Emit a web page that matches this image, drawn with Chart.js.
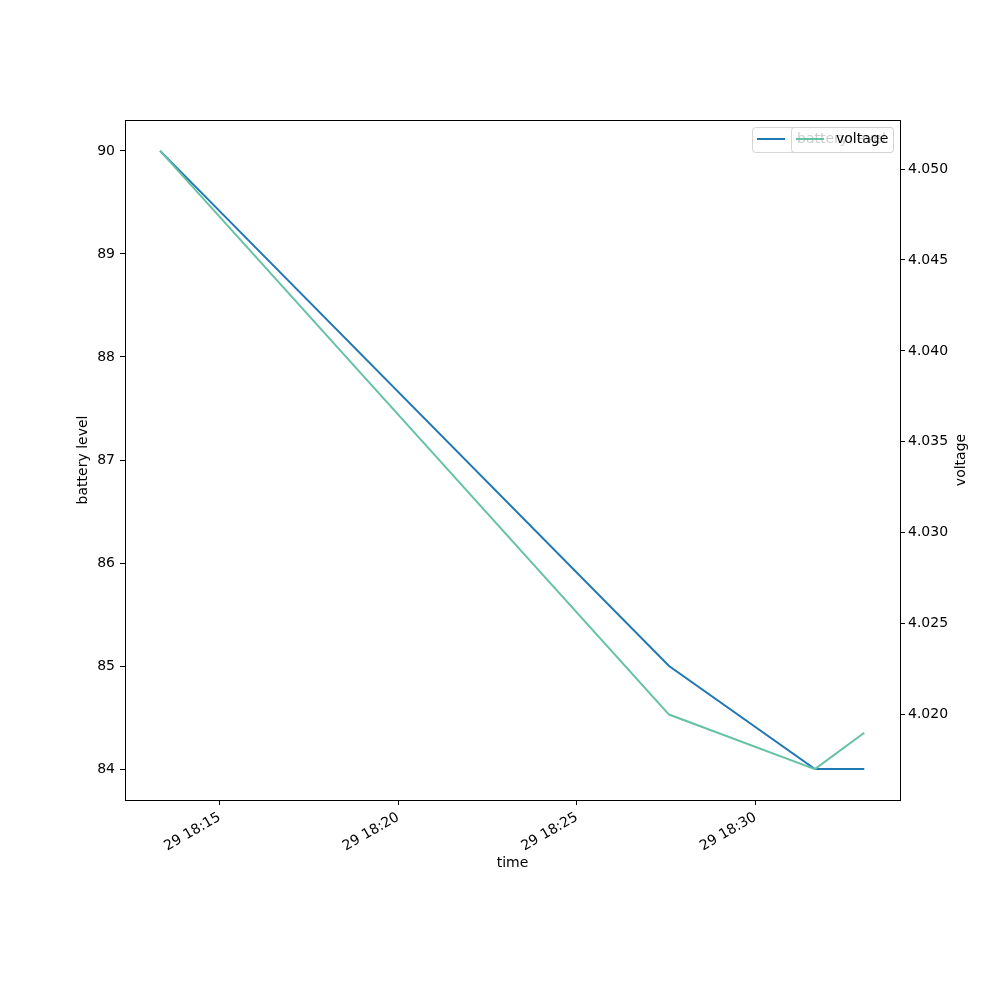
<!DOCTYPE html>
<html>
<head>
<meta charset="utf-8">
<script src="https://cdn.jsdelivr.net/npm/chart.js@4.4.1/dist/chart.umd.min.js"></script>
<style>
  html, body { margin: 0; padding: 0; background: #fff; }
  #wrap { width: 1000px; height: 1000px; }
</style>
</head>
<body>
<div id="wrap"><canvas id="myChart" width="1000" height="1000"></canvas></div>
<script>
// readings, day 29
const times = ['18:13:20', '18:27:35', '18:31:40', '18:33:03'];
const batteryLevel = [90, 85, 84, 84];
const voltage = [4.051, 4.020, 4.017, 4.019];

const xTicks = [15, 20, 25, 30];
const leftTicks = [84, 85, 86, 87, 88, 89, 90];
const rightTicks = [4.020, 4.025, 4.030, 4.035, 4.040, 4.045, 4.050];

// minutes after 18:00
function toMin(t) {
  const p = t.split(':').map(Number);
  return (p[0] - 18) * 60 + p[1] + p[2] / 60;
}
const xs = times.map(toMin);

const FONT = { family: 'DejaVu Sans', size: 14 };

const frame = {
  id: 'frame',
  afterDraw(chart) {
    const c = chart.ctx;
    const a = chart.chartArea;
    c.save();
    c.strokeStyle = '#000';
    c.lineWidth = 1;
    c.strokeRect(a.left + 0.5, a.top + 0.5, a.right - a.left, a.bottom - a.top);

    // right axis title, reads bottom to top like the original
    c.font = '14px "DejaVu Sans"';
    c.fillStyle = '#000';
    c.textAlign = 'center';
    c.textBaseline = 'middle';
    c.translate(961, (a.top + a.bottom) / 2);
    c.rotate(-Math.PI / 2);
    c.fillText('voltage', 0, 0);
    c.restore();

    // two legends stacked on each other (as in the source figure)
    function box(x1, x2, color, label, lineX, textX) {
      c.save();
      c.fillStyle = 'rgba(255,255,255,0.8)';
      c.strokeStyle = 'rgba(204,204,204,0.8)';
      c.lineWidth = 1;
      c.beginPath();
      c.roundRect(x1 + 0.5, 127.5, x2 - x1, 25, 3);
      c.fill();
      c.stroke();
      c.strokeStyle = color;
      c.lineWidth = 2;
      c.beginPath();
      c.moveTo(lineX, 139);
      c.lineTo(lineX + 28, 139);
      c.stroke();
      c.font = '14px "DejaVu Sans"';
      c.fillStyle = '#000';
      c.textBaseline = 'middle';
      c.fillText(label, textX, 139);
      c.restore();
    }
    box(752, 893, '#1f77b4', 'battery level', 757, 797);
    box(791, 893, '#66c2a5', 'voltage', 796, 836);
  }
};

new Chart(document.getElementById('myChart'), {
  type: 'line',
  data: {
    datasets: [
      {
        label: 'voltage',
        data: xs.map((x, i) => ({ x: x, y: voltage[i] })),
        yAxisID: 'y2',
        borderColor: '#66c2a5',
        borderWidth: 2,
        pointRadius: 0,
        tension: 0,
        fill: false,
        order: 0,
      },
      {
        label: 'battery level',
        data: xs.map((x, i) => ({ x: x, y: batteryLevel[i] })),
        yAxisID: 'y',
        borderColor: '#1f77b4',
        borderWidth: 2,
        pointRadius: 0,
        tension: 0,
        fill: false,
        order: 1,
      },
    ],
  },
  options: {
    responsive: false,
    animation: false,
    devicePixelRatio: 1,
    layout: { padding: { left: 75, right: 0, top: 120, bottom: 128 } },
    plugins: { legend: { display: false }, tooltip: { enabled: false } },
    scales: {
      x: {
        type: 'linear',
        min: 12.35,
        max: 34.05,
        afterBuildTicks: axis => { axis.ticks = xTicks.map(v => ({ value: v })); },
        afterFit: axis => { axis.height = 72; },
        grid: { drawOnChartArea: false, color: '#000', tickLength: 5 },
        border: { color: '#000' },
        ticks: {
          color: '#000',
          font: FONT,
          minRotation: 30,
          maxRotation: 30,
          padding: 4,
          callback: v => '29 18:' + String(v).padStart(2, '0'),
        },
        title: { display: true, text: 'time', color: '#000', font: FONT, padding: 0 },
      },
      y: {
        position: 'left',
        min: 83.7,
        max: 90.3,
        afterBuildTicks: axis => { axis.ticks = leftTicks.map(v => ({ value: v })); },
        afterFit: axis => { axis.width = 50; },
        grid: { drawOnChartArea: false, color: '#000', tickLength: 5 },
        border: { color: '#000' },
        ticks: { color: '#000', font: FONT, padding: 5 },
        title: { display: true, text: 'battery level', color: '#000', font: FONT, padding: 0 },
      },
      y2: {
        position: 'right',
        min: 4.0153,
        max: 4.0527,
        afterBuildTicks: axis => { axis.ticks = rightTicks.map(v => ({ value: v })); },
        afterFit: axis => { axis.width = 100; },
        grid: { drawOnChartArea: false, color: '#000', tickLength: 5 },
        border: { color: '#000' },
        ticks: { color: '#000', font: FONT, padding: 3, callback: v => v.toFixed(3) },
      },
    },
  },
  plugins: [frame],
});
</script>
</body>
</html>
